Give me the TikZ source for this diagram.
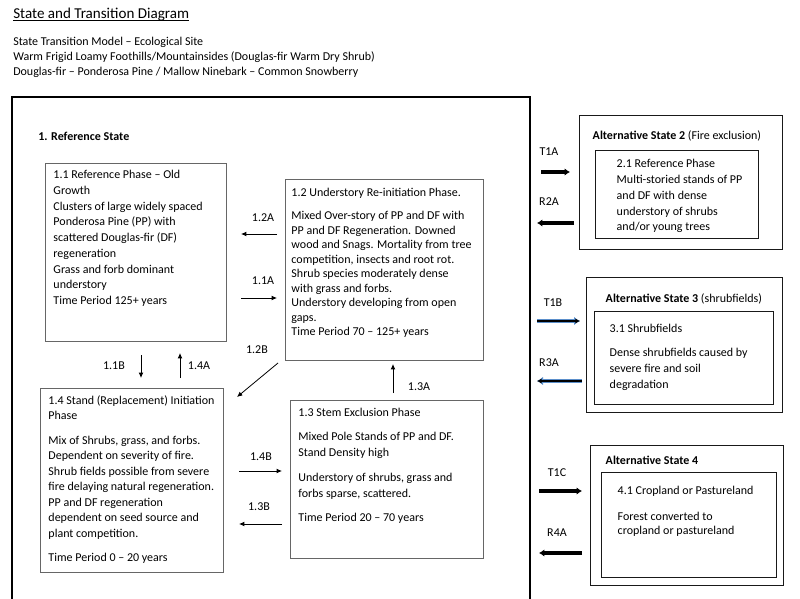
\documentclass[tikz,border=0pt]{standalone}
\usepackage{fontspec}
\setmainfont{Carlito}
\usepackage{xcolor}
\usetikzlibrary{positioning,arrows.meta}

\definecolor{arrowblue}{HTML}{5B8FCB}
\newlength\pxu
\setlength\pxu{0.75pt}
% box text: width, height, left gap, first baseline, lines
\newcommand\boxtext[5]{%
  \parbox[t][#2\pxu][t]{#1\pxu}{\raggedright\leftskip=#3\pxu\parskip=0pt
    \vspace*{\dimexpr#4\pxu-7pt\relax}\rule{0pt}{7pt}#5}}
\newcommand\pgap[1][9]{\par\vspace{#1\pxu}}

\begin{document}
\begin{tikzpicture}[x=0.75pt, y=-0.75pt,
    every node/.style={font=\fontsize{9}{11.8}\selectfont},
    phase/.style={draw=black!60, line width=0.7pt, inner sep=0pt, anchor=north west},
    altstate/.style={draw=black!90, line width=1.1pt, inner sep=0pt, anchor=north west},
    tlabel/.style={inner sep=0pt},
    trans/.style={-{Latex[length=4pt,width=3.6pt]}, line width=0.6pt},
    bigtrans/.style={-{Latex[length=4pt,width=5.5pt]}, line width=2.3pt},
    bluetrans/.style={-{Latex[length=3.5pt,width=4pt]}, line width=1.2pt,
      preaction={draw=arrowblue, line width=3.3pt, -{Latex[length=4.5pt,width=6.5pt]}}}]

  \useasboundingbox (0,0) rectangle (800,599);

  % Heading
  \node[anchor=base west, inner sep=0pt, font=\fontsize{11.3}{13}\selectfont] (title) at (13,18.5) {State and Transition Diagram};
  \draw[line width=0.6pt] ([yshift=-1.7pt]title.base west) -- ([yshift=-1.7pt]title.base east);
  \node[anchor=base west, inner sep=0pt] (hdr1) at (13,45.5) {State Transition Model – Ecological Site};
  \node[anchor=base west, inner sep=0pt] (hdr2) at (13,60.5) {Warm Frigid Loamy Foothills/Mountainsides (Douglas-fir Warm Dry Shrub)};
  \node[anchor=base west, inner sep=0pt] (hdr3) at (13,75.5) {Douglas-fir – Ponderosa Pine / Mallow Ninebark – Common Snowberry};

  % Reference state frame
  \draw[line width=1.2pt] (12,600) -- (12,97) -- (530,97) -- (530,600);
  \node[anchor=base west, inner sep=0pt, font=\fontsize{9}{11.8}\selectfont\bfseries] (refstate) at (38,140.5) {1. Reference State};

  % Phases of the reference state
  \node[phase] (P11) at (45,163) {\boxtext{181}{178}{8}{15.2}{%
    1.1 Reference Phase – Old\\ Growth\\ Clusters of large widely spaced\\ Ponderosa Pine (PP) with\\
    scattered Douglas-fir (DF)\\ regeneration\\ Grass and forb dominant\\ understory\\ Time Period 125+ years}};
  \node[phase, font=\fontsize{9}{10.9}\selectfont] (P12) at (285,179) {\boxtext{198}{181}{6}{16.6}{%
    1.2 Understory Re-initiation Phase.\pgap
    Mixed Over-story of PP and DF with\\ PP and DF Regeneration. Downed\\ wood and Snags. Mortality from tree\\
    competition, insects and root rot.\\ Shrub species moderately dense\\ with grass and forbs.\\
    Understory developing from open\\ gaps.\\ Time Period 70 – 125+ years}};
  \node[phase, font=\fontsize{9}{11.6}\selectfont] (P14) at (40,388) {\boxtext{183}{184}{8}{16}{%
    1.4 Stand (Replacement) Initiation\\ Phase\pgap
    Mix of Shrubs, grass, and forbs.\\ Dependent on severity of fire.\\ Shrub fields possible from severe\\
    fire delaying natural regeneration.\\ PP and DF regeneration\\ dependent on seed source and\\ plant competition.\pgap
    Time Period 0 – 20 years}};
  \node[phase] (P13) at (290,400) {\boxtext{193}{158}{8}{15.6}{%
    1.3 Stem Exclusion Phase\pgap
    Mixed Pole Stands of PP and DF.\\ Stand Density high\pgap
    Understory of shrubs, grass and\\ forbs sparse, scattered.\pgap
    Time Period 20 – 70 years}};

  % Pathways between phases
  \node[tlabel] (L12A) at (263,218) {1.2A};
  \coordinate (a12As) at (277,234); \coordinate (a12Ae) at (241,234);
  \draw[trans] (a12As) -- (a12Ae);
  \node[tlabel] (L11A) at (263,281) {1.1A};
  \coordinate (a11As) at (241,298); \coordinate (a11Ae) at (277,298);
  \draw[trans] (a11As) -- (a11Ae);
  \node[tlabel] (L11B) at (114,366) {1.1B};
  \coordinate (a11Bs) at (141,355); \coordinate (a11Be) at (141,378);
  \draw[trans] (a11Bs) -- (a11Be);
  \node[tlabel] (L14A) at (199,366) {1.4A};
  \coordinate (a14As) at (180,378); \coordinate (a14Ae) at (180,353);
  \draw[trans] (a14As) -- (a14Ae);
  \node[tlabel] (L12B) at (257,350) {1.2B};
  \coordinate (a12Bs) at (278,363); \coordinate (a12Be) at (237,397);
  \draw[trans] (a12Bs) -- (a12Be);
  \node[tlabel] (L13A) at (419,387) {1.3A};
  \coordinate (a13As) at (393,393); \coordinate (a13Ae) at (393,364);
  \draw[trans] (a13As) -- (a13Ae);
  \node[tlabel] (L14B) at (261,457) {1.4B};
  \coordinate (a14Bs) at (239,471); \coordinate (a14Be) at (282,471);
  \draw[trans] (a14Bs) -- (a14Be);
  \node[tlabel] (L13B) at (259,507) {1.3B};
  \coordinate (a13Bs) at (282,524); \coordinate (a13Be) at (239,524);
  \draw[trans] (a13Bs) -- (a13Be);

  % Alternative states
  \node[altstate] (S2) at (579,115) {\boxtext{203}{134}{13}{24}{\textbf{Alternative State 2} (Fire exclusion)}};
  \node[altstate] (S2in) at (595,150) {\boxtext{163}{88}{21}{17.2}{%
    2.1 Reference Phase\\ Multi-storied stands of PP\\ and DF with dense\\ understory of shrubs\\ and/or young trees}};
  \node[altstate] (S3) at (586,277) {\boxtext{196}{135}{19}{25}{\textbf{Alternative State 3} (shrubfields)}};
  \node[altstate] (S3in) at (594,311) {\boxtext{179}{93}{15}{21.2}{%
    3.1 Shrubfields\pgap[8]
    Dense shrubfields caused by\\ severe fire and soil\\ degradation}};
  \node[altstate] (S4) at (590,445) {\boxtext{193}{140}{15}{19}{\textbf{Alternative State 4}}};
  \node[altstate, font=\fontsize{9}{11}\selectfont] (S4in) at (601,472) {\boxtext{175}{105}{16}{21.9}{%
    4.1 Cropland or Pastureland\pgap[11]
    Forest converted to\\ cropland or pastureland}};

  % Transitions and restorations
  \node[tlabel] (LT1A) at (549,152) {T1A};
  \coordinate (t1As) at (541,172); \coordinate (t1Ae) at (570,172);
  \draw[bigtrans] (t1As) -- (t1Ae);
  \node[tlabel] (LR2A) at (549,202) {R2A};
  \coordinate (r2As) at (574,223); \coordinate (r2Ae) at (537,223);
  \draw[bigtrans] (r2As) -- (r2Ae);
  \node[tlabel] (LT1B) at (553,303) {T1B};
  \coordinate (t1Bs) at (537,321); \coordinate (t1Be) at (580,321);
  \draw[bluetrans] (t1Bs) -- (t1Be);
  \node[tlabel] (LR3A) at (549,363) {R3A};
  \coordinate (r3As) at (582,381); \coordinate (r3Ae) at (537,381);
  \draw[bluetrans] (r3As) -- (r3Ae);
  \node[tlabel] (LT1C) at (557,473) {T1C};
  \coordinate (t1Cs) at (539,491); \coordinate (t1Ce) at (582,491);
  \draw[bigtrans] (t1Cs) -- (t1Ce);
  \node[tlabel] (LR4A) at (557,533) {R4A};
  \coordinate (r4As) at (582,553); \coordinate (r4Ae) at (539,553);
  \draw[bigtrans] (r4As) -- (r4Ae);

\end{tikzpicture}
\end{document}
